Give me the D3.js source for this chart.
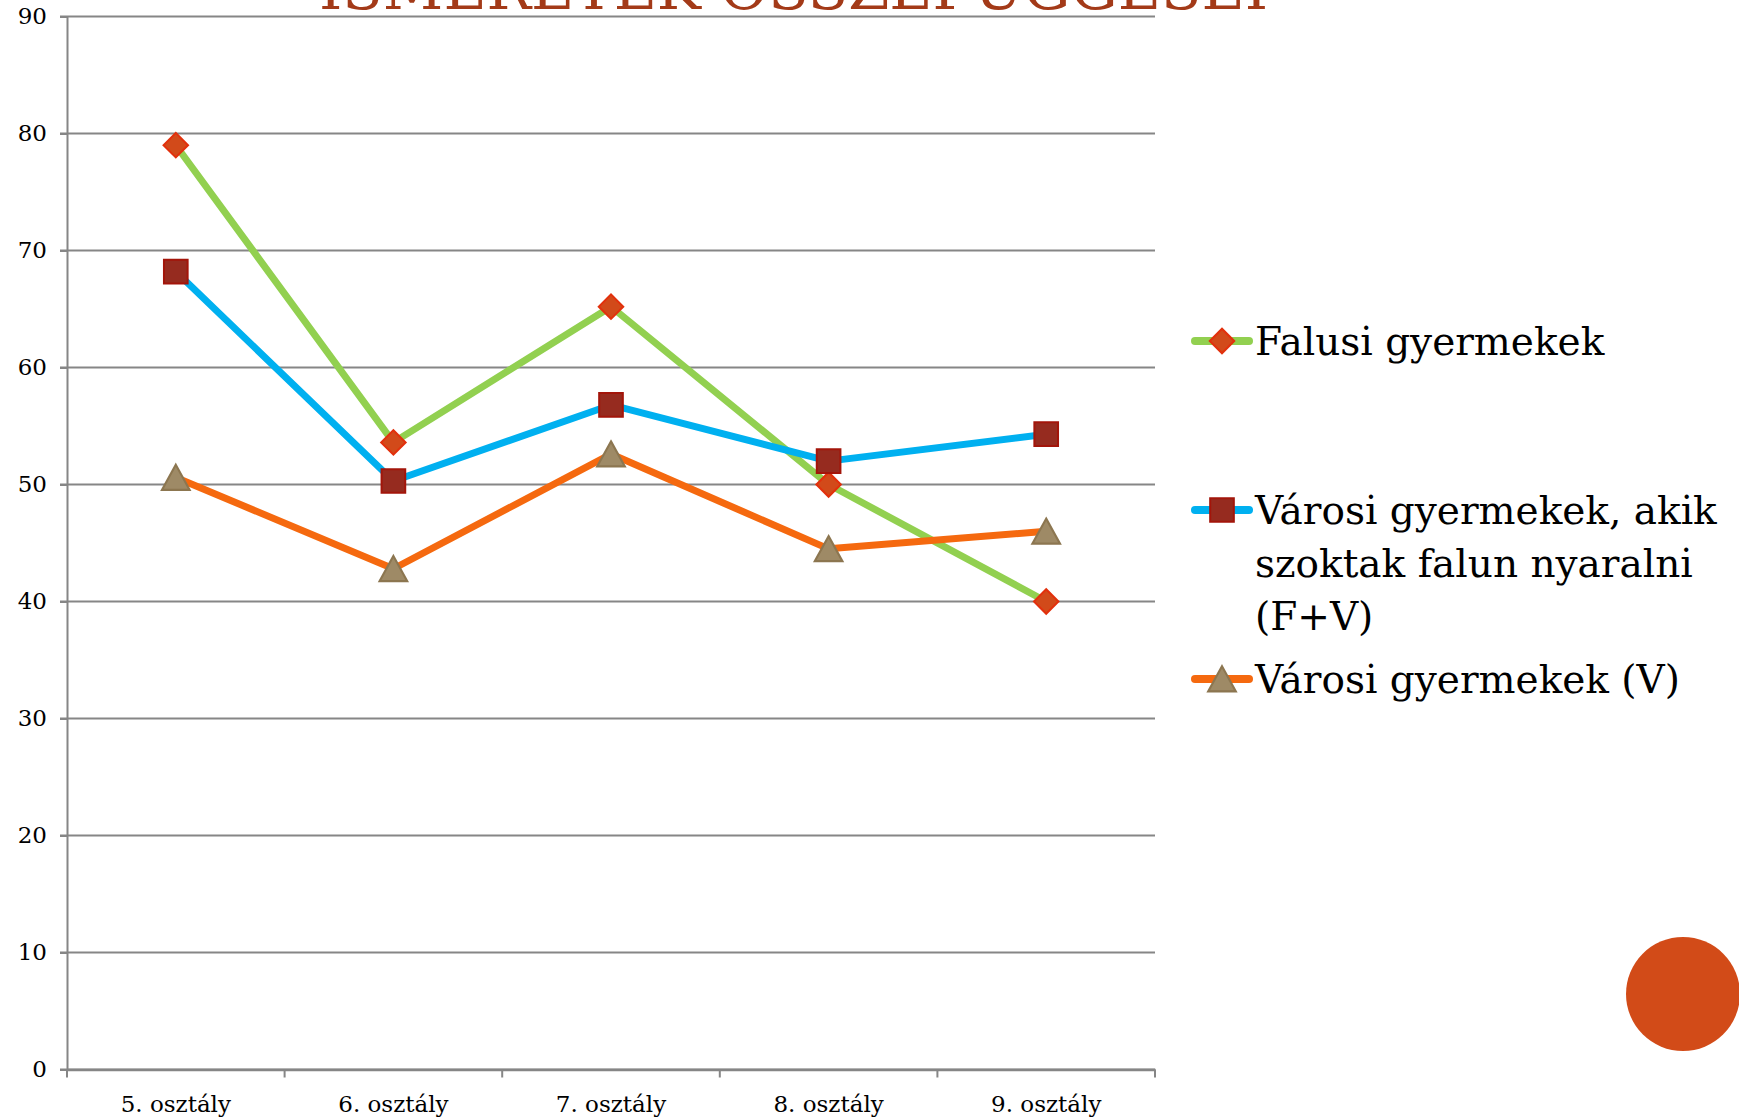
<!DOCTYPE html>
<html>
<head>
<meta charset="utf-8">
<script src="https://cdnjs.cloudflare.com/ajax/libs/d3/7.8.5/d3.min.js"></script>
<style>
  html, body { margin: 0; padding: 0; background: #fff; }
  svg { display: block; }
  text { font-family: "DejaVu Serif", serif; fill: #000; }
</style>
</head>
<body>
<div id="chart"></div>
<script>
// data
var categories = ["5. osztály", "6. osztály", "7. osztály", "8. osztály", "9. osztály"];
var seriesNames = ["Falusi gyermekek", "Városi gyermekek, akik szoktak falun nyaralni (F+V)", "Városi gyermekek (V)"];
var legendLines = [["Falusi gyermekek"], ["Városi gyermekek, akik", "szoktak falun nyaralni", "(F+V)"], ["Városi gyermekek (V)"]];
var falusi = [79, 53.6, 65.2, 50, 40];
var varosiFV = [68.2, 50.3, 56.8, 52, 54.3];
var varosiV = [50.6, 42.8, 52.6, 44.5, 46];
var yTicks = [0, 10, 20, 30, 40, 50, 60, 70, 80, 90];
var titleText = "ISMERETEK ÖSSZEFÜGGÉSEI";

var W = 1739, H = 1118;
var margin = { top: 16.5, left: 67, right: 584, bottom: 48.5 };
var width = W - margin.left - margin.right,
    height = H - margin.top - margin.bottom;

var styles = [
    { line: "#92d050", fill: "#d24a1a", stroke: "#e2300c", shape: "diamond" },
    { line: "#00b0f0", fill: "#962b1f", stroke: "#a3150a", shape: "square" },
    { line: "#f5690f", fill: "#9e8a66", stroke: "#8c7650", shape: "triangle" }
];
var allSeries = [falusi, varosiFV, varosiV];

var svg = d3.select("#chart").append("svg")
    .attr("width", W)
    .attr("height", H);

// title, cut off at the top of the slide like in the original
svg.append("text")
    .attr("x", 319)
    .attr("y", 9)
    .attr("textLength", 949)
    .attr("lengthAdjust", "spacingAndGlyphs")
    .style("font-size", "58px")
    .style("fill", "#a33a18")
    .text(titleText);

var g = svg.append("g")
    .attr("transform", "translate(" + margin.left + "," + margin.top + ")");

var x = d3.scaleBand().domain(categories).range([0, width]);
var y = d3.scaleLinear().domain([0, 90]).range([height, 0]);

// gridlines
g.append("g").selectAll("line")
    .data(yTicks)
    .enter().append("line")
    .attr("x1", -7)
    .attr("x2", width)
    .attr("y1", function (d) { return y(d); })
    .attr("y2", function (d) { return y(d); })
    .attr("stroke", "#868686")
    .attr("stroke-width", 2);

// y axis
var yAxis = d3.axisLeft(y).tickValues(yTicks).tickSize(7).tickPadding(13);
var yg = g.append("g").call(yAxis);
yg.select(".domain").attr("stroke", "#868686").attr("stroke-width", 2);
yg.selectAll(".tick line").attr("stroke", "#868686").attr("stroke-width", 2);
yg.selectAll("text").style("font-size", "23px").style("font-family", "DejaVu Serif, serif").attr("fill", "#000");

// x axis
var xAxis = d3.axisBottom(x).tickSize(0).tickPadding(26);
var xg = g.append("g")
    .attr("transform", "translate(0," + height + ")")
    .call(xAxis);
xg.select(".domain").attr("stroke", "#868686").attr("stroke-width", 2.5);
xg.selectAll("text").style("font-size", "23px").style("font-family", "DejaVu Serif, serif").attr("fill", "#000");
// boundary tick marks between categories
var bounds = categories.map(function (c) { return x(c); }).concat([width]);
xg.selectAll(".bound")
    .data(bounds)
    .enter().append("line")
    .attr("class", "bound")
    .attr("x1", function (d) { return d; })
    .attr("x2", function (d) { return d; })
    .attr("y1", 0)
    .attr("y2", 8)
    .attr("stroke", "#868686")
    .attr("stroke-width", 2);

var cx = function (i) { return x(categories[i]) + x.bandwidth() / 2; };

var line = d3.line()
    .x(function (d, i) { return cx(i); })
    .y(function (d) { return y(d); });

var symbolFor = {
    diamond: d3.symbol().type(d3.symbolSquare).size(300),
    square: d3.symbol().type(d3.symbolSquare).size(560),
    triangle: d3.symbol().type(d3.symbolTriangle).size(300)
};

function drawMarker(sel, st) {
    var p = sel.append("path")
        .attr("d", symbolFor[st.shape]())
        .attr("fill", st.fill)
        .attr("stroke", st.stroke)
        .attr("stroke-width", 2);
    if (st.shape === "diamond") p.attr("transform", "rotate(45)");
    // d3 centres the triangle on its centroid, shift so the box is centred
    if (st.shape === "triangle") p.attr("transform", "translate(0,4) scale(1.05,1.1)");
    return p;
}

allSeries.forEach(function (vals, s) {
    var st = styles[s];
    g.append("path")
        .datum(vals)
        .attr("d", line)
        .attr("fill", "none")
        .attr("stroke", st.line)
        .attr("stroke-width", 7)
        .attr("stroke-linejoin", "round");
});

allSeries.forEach(function (vals, s) {
    var st = styles[s];
    g.append("g").selectAll("g")
        .data(vals)
        .enter().append("g")
        .attr("transform", function (d, i) { return "translate(" + cx(i) + "," + y(d) + ")"; })
        .each(function () { drawMarker(d3.select(this), st); });
});

// legend
var legendY = [341, 510, 679];
var legend = svg.selectAll(".legend")
    .data(seriesNames)
    .enter().append("g")
    .attr("class", "legend")
    .attr("transform", function (d, i) { return "translate(1222," + legendY[i] + ")"; });

legend.append("line")
    .attr("x1", -27).attr("x2", 27)
    .attr("y1", 0).attr("y2", 0)
    .attr("stroke", function (d, i) { return styles[i].line; })
    .attr("stroke-width", 8)
    .attr("stroke-linecap", "round");

legend.each(function (d, i) { drawMarker(d3.select(this), styles[i]); });

legend.append("text")
    .attr("x", 33)
    .attr("y", 14)
    .style("font-size", "39px")
    .each(function (d, i) {
        var t = d3.select(this);
        legendLines[i].forEach(function (ln, k) {
            t.append("tspan")
                .attr("x", 33)
                .attr("dy", k === 0 ? 0 : 53)
                .text(ln);
        });
    });

// decorative circle in the corner
svg.append("circle")
    .attr("cx", 1683)
    .attr("cy", 994)
    .attr("r", 57)
    .attr("fill", "#d24b18");
</script>
</body>
</html>
